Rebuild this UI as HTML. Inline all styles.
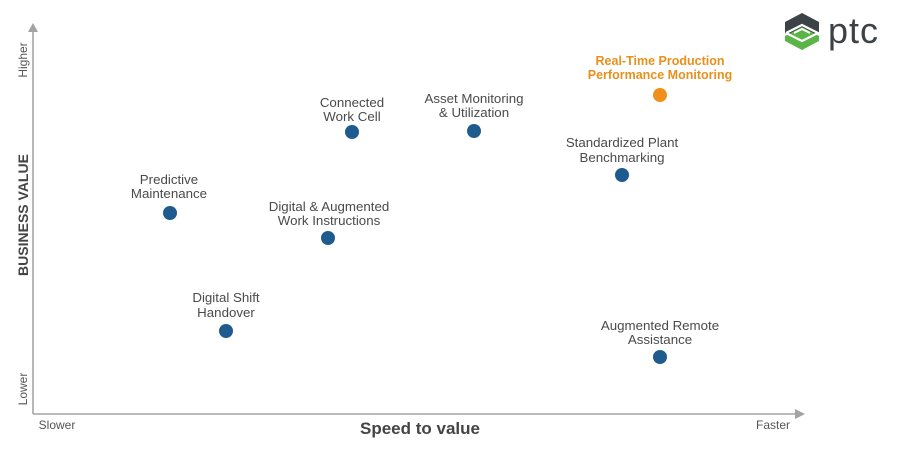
<!DOCTYPE html>
<html>
<head>
<meta charset="utf-8">
<style>
  html,body{margin:0;padding:0;background:#fff;}
  body{width:900px;height:450px;overflow:hidden;}
  svg{display:block;font-family:"Liberation Sans",Arial,sans-serif;}
  .lbl{font-size:13.3px;fill:#4a4a4a;text-anchor:middle;}
  .dot{fill:#1f5b8e;}
</style>
</head>
<body>
<svg width="900" height="450" viewBox="0 0 900 450" xmlns="http://www.w3.org/2000/svg">
  <!-- axes -->
  <line x1="33" y1="29" x2="33" y2="414" stroke="#a3a3a3" stroke-width="1.6"/>
  <line x1="33" y1="414" x2="796" y2="414" stroke="#a3a3a3" stroke-width="1.6"/>
  <polygon points="33,23 28,32 38,32" fill="#a3a3a3"/>
  <polygon points="805,414 795,409 795,419" fill="#a3a3a3"/>

  <!-- axis labels -->
  <text x="57" y="429" font-size="12" fill="#555" text-anchor="middle">Slower</text>
  <text x="773" y="429" font-size="12" fill="#555" text-anchor="middle">Faster</text>
  <text x="420" y="434" font-size="17" font-weight="bold" fill="#444" text-anchor="middle">Speed to value</text>
  <text transform="translate(27,60) rotate(-90)" font-size="12" fill="#555" text-anchor="middle">Higher</text>
  <text transform="translate(27,389) rotate(-90)" font-size="12" fill="#555" text-anchor="middle">Lower</text>
  <text transform="translate(28,215) rotate(-90)" font-size="14" font-weight="bold" fill="#444" text-anchor="middle">BUSINESS VALUE</text>

  <!-- points -->
  <text class="lbl" x="169" y="184">Predictive</text>
  <text class="lbl" x="169" y="198">Maintenance</text>
  <circle class="dot" cx="170" cy="213" r="7"/>

  <text class="lbl" x="352" y="107">Connected</text>
  <text class="lbl" x="352" y="121">Work Cell</text>
  <circle class="dot" cx="352" cy="132" r="7"/>

  <text class="lbl" x="474" y="103">Asset Monitoring</text>
  <text class="lbl" x="474" y="117">&amp; Utilization</text>
  <circle class="dot" cx="474" cy="131" r="7"/>

  <text class="lbl" x="329" y="211">Digital &amp; Augmented</text>
  <text class="lbl" x="329" y="225">Work Instructions</text>
  <circle class="dot" cx="328" cy="238" r="7"/>

  <text class="lbl" x="226" y="302">Digital Shift</text>
  <text class="lbl" x="226" y="317">Handover</text>
  <circle class="dot" cx="226" cy="331" r="7"/>

  <text class="lbl" x="622" y="147">Standardized Plant</text>
  <text class="lbl" x="622" y="162">Benchmarking</text>
  <circle class="dot" cx="622" cy="175" r="7"/>

  <text x="660" y="65" font-size="12.5" font-weight="bold" fill="#e8901c" text-anchor="middle">Real-Time Production</text>
  <text x="660" y="79" font-size="12.5" font-weight="bold" fill="#e8901c" text-anchor="middle">Performance Monitoring</text>
  <circle cx="660" cy="95" r="7" fill="#f0901a"/>

  <text class="lbl" x="660" y="330">Augmented Remote</text>
  <text class="lbl" x="660" y="344">Assistance</text>
  <circle class="dot" cx="660" cy="357" r="7"/>

  <!-- ptc logo -->
  <g>
    <polygon points="802,13 819,22 819,33 802,42 785,33 785,22" fill="#3c4246"/>
    <polygon points="802,27 819,36 819,41 802,50 785,41 785,36" fill="#5bb446"/>
    <polyline points="786,33 802,25 818,33 802,41 786,33" fill="none" stroke="#fff" stroke-width="2.2"/>
    <polyline points="794,33 802,29 810,33" fill="none" stroke="#fff" stroke-width="2"/>
  </g>
  <text x="828" y="43" font-size="36" fill="#3c4246" letter-spacing="1">ptc</text>
</svg>
</body>
</html>
